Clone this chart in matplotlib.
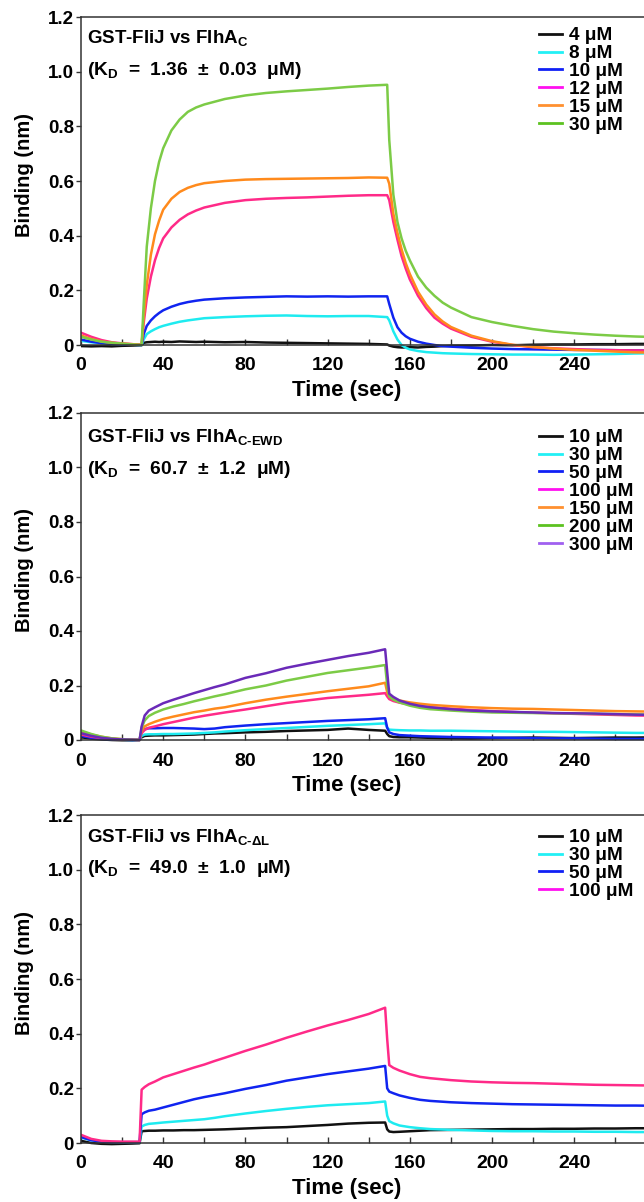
import matplotlib
matplotlib.use('Agg')
import matplotlib.pyplot as plt
from matplotlib.lines import Line2D
from matplotlib.ticker import FixedLocator, FuncFormatter

# ---------------- data ----------------
time_a = [0, 5, 10, 15, 20, 25, 29.5, 30.5, 32, 34, 36, 38, 40, 44, 48, 52, 56, 60,
          70, 80, 90, 100, 110, 120, 130, 140, 149, 150, 152, 154, 156, 158, 160,
          164, 168, 172, 176, 180, 190, 200, 210, 220, 230, 240, 250, 260, 270, 280]

fliha_c_4 = [-0.004, -0.005, -0.004, -0.005, -0.003, -0.002, -0.001, 0.008, 0.010, 0.011, 0.012, 0.011, 0.012,
             0.011, 0.013, 0.012, 0.011, 0.012, 0.010, 0.011, 0.009, 0.008, 0.007, 0.006, 0.005, 0.004,
             0.002, -0.002, -0.006, -0.008, -0.009, -0.009, -0.008, -0.009, -0.007, -0.006, -0.004, -0.003,
             -0.002, 0.000, -0.001, 0.001, 0.002, 0.002, 0.003, 0.003, 0.004, 0.004]
fliha_c_8 = [0.015, 0.010, 0.007, 0.004, 0.002, 0.001, 0.000, 0.020, 0.040, 0.050, 0.058, 0.065, 0.070,
             0.078, 0.085, 0.090, 0.094, 0.098, 0.102, 0.105, 0.107, 0.108, 0.106, 0.105, 0.106, 0.106,
             0.102, 0.090, 0.050, 0.020, 0.000, -0.010, -0.016, -0.022, -0.026, -0.028, -0.030, -0.031,
             -0.033, -0.034, -0.035, -0.035, -0.036, -0.035, -0.034, -0.033, -0.031, -0.030]
fliha_c_10 = [0.020, 0.012, 0.007, 0.004, 0.002, 0.001, 0.000, 0.040, 0.070, 0.090, 0.105, 0.117, 0.127,
              0.140, 0.150, 0.157, 0.162, 0.166, 0.171, 0.174, 0.176, 0.178, 0.177, 0.178, 0.177, 0.178,
              0.178, 0.150, 0.100, 0.065, 0.045, 0.032, 0.023, 0.012, 0.005, 0.000, -0.004, -0.006,
              -0.010, -0.013, -0.015, -0.016, -0.017, -0.018, -0.018, -0.019, -0.020, -0.020]
fliha_c_12 = [0.045, 0.030, 0.018, 0.010, 0.006, 0.003, 0.001, 0.080, 0.170, 0.250, 0.310, 0.355, 0.390,
              0.430, 0.458, 0.478, 0.492, 0.503, 0.520, 0.530, 0.535, 0.538, 0.540, 0.543, 0.546, 0.548,
              0.548, 0.530, 0.450, 0.385, 0.325, 0.280, 0.240, 0.180, 0.135, 0.100, 0.078, 0.060,
              0.030, 0.012, 0.000, -0.008, -0.012, -0.015, -0.018, -0.019, -0.020, -0.021]
fliha_c_15 = [0.035, 0.022, 0.013, 0.008, 0.005, 0.003, 0.001, 0.100, 0.220, 0.330, 0.405, 0.455, 0.495,
              0.535, 0.560, 0.575, 0.585, 0.592, 0.600, 0.605, 0.607, 0.608, 0.609, 0.610, 0.611, 0.613,
              0.612, 0.590, 0.480, 0.410, 0.350, 0.300, 0.260, 0.195, 0.148, 0.112, 0.086, 0.066,
              0.034, 0.014, 0.001, -0.007, -0.013, -0.018, -0.021, -0.024, -0.027, -0.028]
fliha_c_30 = [0.030, 0.020, 0.012, 0.008, 0.005, 0.002, 0.000, 0.150, 0.360, 0.500, 0.600, 0.670, 0.720,
              0.785, 0.825, 0.853, 0.869, 0.880, 0.900, 0.913, 0.922, 0.928, 0.933, 0.938, 0.944, 0.949,
              0.952, 0.750, 0.550, 0.450, 0.390, 0.345, 0.310, 0.250, 0.210, 0.180, 0.155, 0.137,
              0.102, 0.084, 0.070, 0.058, 0.049, 0.043, 0.038, 0.034, 0.031, 0.029]

time_b = [0, 5, 10, 15, 20, 25, 28.5, 29.5, 31, 33, 36, 40, 45, 50, 55, 60, 65, 70,
          80, 90, 100, 110, 120, 130, 140, 148, 149, 150, 152, 155, 160, 165, 170,
          180, 190, 200, 210, 220, 230, 240, 250, 260, 270, 280]

ewd_10 = [0.010, 0.005, 0.002, 0.000, -0.001, -0.001, 0.000, 0.010, 0.015, 0.016, 0.017, 0.017, 0.018,
          0.019, 0.020, 0.022, 0.024, 0.025, 0.028, 0.030, 0.033, 0.035, 0.037, 0.042, 0.037, 0.034,
          0.022, 0.014, 0.011, 0.010, 0.010, 0.009, 0.008, 0.006, 0.005, 0.007, 0.008, 0.009, 0.008,
          0.007, 0.008, 0.009, 0.009, 0.010]
ewd_30 = [0.020, 0.012, 0.006, 0.003, 0.001, 0.000, 0.000, 0.015, 0.020, 0.021, 0.021, 0.022, 0.022,
          0.023, 0.024, 0.026, 0.028, 0.031, 0.036, 0.040, 0.044, 0.048, 0.052, 0.055, 0.058, 0.061,
          0.045, 0.038, 0.037, 0.036, 0.035, 0.035, 0.034, 0.034, 0.033, 0.032, 0.031, 0.030, 0.030,
          0.029, 0.028, 0.027, 0.026, 0.026]
ewd_50 = [0.015, 0.008, 0.004, 0.002, 0.001, 0.000, 0.000, 0.030, 0.040, 0.043, 0.043, 0.044, 0.044,
          0.043, 0.042, 0.040, 0.042, 0.047, 0.053, 0.058, 0.062, 0.066, 0.070, 0.073, 0.076, 0.080,
          0.045, 0.028, 0.022, 0.018, 0.016, 0.014, 0.013, 0.011, 0.010, 0.009, 0.008, 0.007, 0.006,
          0.006, 0.005, 0.004, 0.004, 0.004]
ewd_100 = [0.020, 0.012, 0.007, 0.004, 0.002, 0.001, 0.000, 0.025, 0.037, 0.045, 0.050, 0.058, 0.066,
           0.074, 0.082, 0.089, 0.095, 0.101, 0.112, 0.124, 0.136, 0.145, 0.154, 0.160, 0.166, 0.172,
           0.160, 0.150, 0.143, 0.137, 0.130, 0.124, 0.120, 0.115, 0.110, 0.106, 0.103, 0.100, 0.098,
           0.096, 0.094, 0.092, 0.090, 0.089]
ewd_150 = [0.030, 0.020, 0.012, 0.006, 0.003, 0.001, 0.000, 0.035, 0.050, 0.058, 0.067, 0.077, 0.086,
           0.094, 0.102, 0.108, 0.115, 0.120, 0.135, 0.148, 0.159, 0.169, 0.179, 0.188, 0.197, 0.210,
           0.175, 0.160, 0.152, 0.145, 0.138, 0.133, 0.129, 0.124, 0.120, 0.117, 0.115, 0.114, 0.112,
           0.110, 0.108, 0.106, 0.105, 0.104]
ewd_200 = [0.035, 0.022, 0.012, 0.006, 0.003, 0.001, 0.000, 0.045, 0.072, 0.088, 0.100, 0.112, 0.123,
           0.132, 0.142, 0.151, 0.160, 0.168, 0.186, 0.200, 0.218, 0.232, 0.246, 0.256, 0.266, 0.275,
           0.200, 0.160, 0.148, 0.138, 0.126, 0.118, 0.113, 0.108, 0.104, 0.101, 0.100, 0.099, 0.098,
           0.097, 0.096, 0.095, 0.094, 0.093]
ewd_300 = [0.025, 0.015, 0.008, 0.004, 0.002, 0.001, 0.000, 0.050, 0.090, 0.108, 0.120, 0.135, 0.148,
           0.160, 0.172, 0.183, 0.194, 0.204, 0.228, 0.245, 0.265, 0.280, 0.294, 0.308, 0.320, 0.333,
           0.250, 0.170, 0.158, 0.145, 0.133, 0.125, 0.120, 0.113, 0.108, 0.105, 0.103, 0.101, 0.099,
           0.098, 0.097, 0.095, 0.093, 0.092]

dl_10 = [0.008, 0.000, -0.003, -0.004, -0.003, -0.002, -0.001, 0.043, 0.044, 0.045, 0.045, 0.046, 0.046,
         0.047, 0.047, 0.048, 0.049, 0.050, 0.053, 0.056, 0.058, 0.062, 0.066, 0.071, 0.074, 0.075,
         0.050, 0.042, 0.040, 0.041, 0.043, 0.045, 0.047, 0.048, 0.049, 0.050, 0.051, 0.051, 0.052,
         0.052, 0.053, 0.053, 0.054, 0.054]
dl_30 = [0.020, 0.010, 0.005, 0.003, 0.002, 0.002, 0.002, 0.060, 0.066, 0.070, 0.072, 0.075, 0.078,
         0.081, 0.084, 0.087, 0.092, 0.098, 0.108, 0.117, 0.125, 0.132, 0.138, 0.142, 0.146, 0.152,
         0.100, 0.080, 0.072, 0.064, 0.058, 0.054, 0.051, 0.048, 0.046, 0.044, 0.043, 0.043, 0.042,
         0.042, 0.041, 0.041, 0.040, 0.040]
dl_50 = [0.022, 0.010, 0.005, 0.003, 0.003, 0.003, 0.003, 0.105, 0.112, 0.118, 0.122, 0.130, 0.140,
         0.150, 0.160, 0.168, 0.175, 0.182, 0.198, 0.212, 0.228, 0.240, 0.252, 0.262, 0.272, 0.282,
         0.200, 0.188, 0.182, 0.174, 0.165, 0.158, 0.154, 0.149, 0.146, 0.144, 0.142, 0.141, 0.140,
         0.139, 0.138, 0.137, 0.137, 0.136]
dl_100 = [0.030, 0.015, 0.008, 0.006, 0.005, 0.005, 0.005, 0.195, 0.205, 0.215, 0.225, 0.240, 0.252,
          0.264, 0.276, 0.287, 0.300, 0.312, 0.337, 0.360, 0.385, 0.408, 0.430, 0.450, 0.472, 0.495,
          0.380, 0.285, 0.275, 0.265, 0.252, 0.242, 0.237, 0.230, 0.225, 0.222, 0.220, 0.219, 0.217,
          0.215, 0.213, 0.212, 0.211, 0.210]

labels_a = ['4 μM', '8 μM', '10 μM', '12 μM', '15 μM', '30 μM']
labels_b = ['10 μM', '30 μM', '50 μM', '100 μM', '150 μM', '200 μM', '300 μM']
labels_c = ['10 μM', '30 μM', '50 μM', '100 μM']

title_a = ['GST-FliJ vs FlhA$_{C}$', '(K$_{D}$  =  1.36  ±  0.03  μM)']
title_b = ['GST-FliJ vs FlhA$_{C\\text{-}EWD}$', '(K$_{D}$  =  60.7  ±  1.2  μM)']
title_c = ['GST-FliJ vs FlhA$_{C\\text{-}\\Delta L}$', '(K$_{D}$  =  49.0  ±  1.0  μM)']

x_major = [0, 40, 80, 120, 160, 200, 240]
x_minor = [20, 60, 100, 140, 180, 220, 260, 280, 300]
y_ticks = [0, 0.2, 0.4, 0.6, 0.8, 1.0, 1.2]

# ---------------- styles ----------------
curve_cols = {'k': '#111111', 'c': '#1EEBF0', 'b': '#1024F0', 'm': '#FF2A88',
              'o': '#FF8A1C', 'g': '#7CCB46', 'p': '#6A2AB8'}
legend_cols = {'k': '#111111', 'c': '#22F0F5', 'b': '#1020F5', 'm': '#FF10F0',
               'o': '#FF9030', 'g': '#5CC220', 'p': '#A060F0'}

plt.rcParams['font.family'] = ['Liberation Sans', 'DejaVu Sans']
plt.rcParams['font.weight'] = 'bold'
plt.rcParams['mathtext.fontset'] = 'custom'
plt.rcParams['mathtext.rm'] = 'Liberation Sans:bold'
plt.rcParams['mathtext.bf'] = 'Liberation Sans:bold'
plt.rcParams['mathtext.it'] = 'Liberation Sans:bold'
plt.rcParams['mathtext.sf'] = 'Liberation Sans:bold'
plt.rcParams['mathtext.default'] = 'bf'

W, H, DPI = 644, 1202, 100
fig = plt.figure(figsize=(W / DPI, H / DPI), dpi=DPI)

X_LEFT = 81.0
PX_PER_S = 2.055
XMAX = 300
YLO, YHI = -0.06, 1.2

panels = [
    dict(top=17, zero=345, t=time_a,
         series=[fliha_c_4, fliha_c_8, fliha_c_10, fliha_c_12, fliha_c_15, fliha_c_30],
         keys=['k', 'c', 'b', 'm', 'o', 'g'], labels=labels_a, title=title_a,
         leg_top=27, t_off=(26, 58)),
    dict(top=413, zero=740, t=time_b,
         series=[ewd_10, ewd_30, ewd_50, ewd_100, ewd_150, ewd_200, ewd_300],
         keys=['k', 'c', 'b', 'm', 'o', 'g', 'p'], labels=labels_b, title=title_b,
         leg_top=429, t_off=(29, 61)),
    dict(top=815, zero=1143, t=time_b,
         series=[dl_10, dl_30, dl_50, dl_100],
         keys=['k', 'c', 'b', 'm'], labels=labels_c, title=title_c,
         leg_top=829, t_off=(27, 58)),
]

def yfmt(v, pos):
    return '0' if abs(v) < 1e-9 else '%.1f' % v

for p in panels:
    ppu = (p['zero'] - p['top']) / YHI
    bottom_px = p['zero'] - YLO * ppu
    width_px = XMAX * PX_PER_S
    height_px = bottom_px - p['top']
    ax = fig.add_axes([X_LEFT / W, 1 - bottom_px / H, width_px / W, height_px / H])
    ax.set_xlim(0, XMAX)
    ax.set_ylim(YLO, YHI)

    for s, k in zip(p['series'], p['keys']):
        ax.plot(p['t'], s, color=curve_cols[k], lw=1.8, solid_joinstyle='round')

    for side in ['left', 'bottom', 'top', 'right']:
        ax.spines[side].set_linewidth(1.1)
        ax.spines[side].set_color('#333333')
    ax.spines['bottom'].set_position(('data', 0))
    ax.spines['left'].set_bounds(0, YHI)

    ax.xaxis.set_major_locator(FixedLocator(x_major))
    ax.xaxis.set_minor_locator(FixedLocator(x_minor))
    ax.yaxis.set_major_locator(FixedLocator(y_ticks))
    ax.yaxis.set_major_formatter(FuncFormatter(yfmt))
    ax.tick_params(axis='x', which='both', direction='in', length=4.5, width=1.0,
                   color='#333333', pad=9, labelsize=14)
    ax.tick_params(axis='y', which='major', direction='out', length=3.6, width=1.0,
                   color='#333333', pad=1.5, labelsize=13.5)
    for lab in ax.get_xticklabels() + ax.get_yticklabels():
        lab.set_fontweight('bold')

    ax.set_xlabel('Time (sec)', fontsize=16, fontweight='bold')
    ax.xaxis.set_label_coords((347 - X_LEFT) / width_px,
                              (bottom_px - (p['zero'] + 35)) / height_px)
    ax.set_ylabel('Binding (nm)', fontsize=14.5, fontweight='bold')
    ycen = (p['top'] + p['zero']) / 2 - 6
    ax.yaxis.set_label_coords((34 - X_LEFT) / width_px, (bottom_px - ycen) / height_px)

    ax.text(3, YHI - p['t_off'][0] / ppu, p['title'][0], fontsize=13.5,
            fontweight='bold', va='baseline', ha='left')
    ax.text(3, YHI - p['t_off'][1] / ppu, p['title'][1], fontsize=13.8,
            fontweight='bold', va='baseline', ha='left')

    handles = [Line2D([], [], color=legend_cols[k], lw=2.0) for k in p['keys']]
    ax.legend(handles, p['labels'], loc='upper left',
              bbox_to_anchor=(539 / W, 1 - p['leg_top'] / H),
              bbox_transform=fig.transFigure, frameon=False, borderpad=0,
              borderaxespad=0, handlelength=1.2, handletextpad=0.37,
              labelspacing=0.03, prop={'size': 13.7, 'weight': 'bold'})

fig.savefig('out.png', dpi=DPI)
